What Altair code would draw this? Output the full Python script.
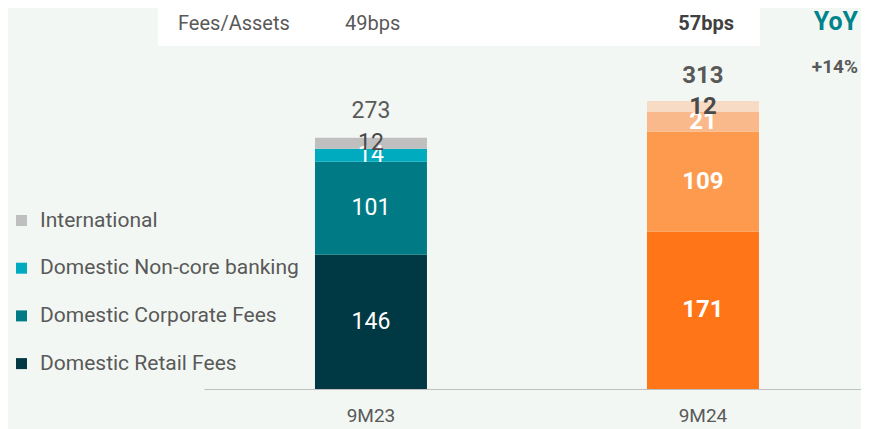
import altair as alt
import pandas as pd

# ---- data ----
periods = ["9M23", "9M24"]
segments = ["Domestic Retail Fees", "Domestic Corporate Fees",
            "Domestic Non-core banking", "International"]
values_9m23 = [146, 101, 14, 12]
values_9m24 = [171, 109, 21, 12]
totals = [273, 313]
fees_label = "Fees/Assets"
fees_assets = ["49bps", "57bps"]
yoy_title = "YoY"
yoy_value = "+14%"

legend_order = ["International", "Domestic Non-core banking",
                "Domestic Corporate Fees", "Domestic Retail Fees"]
teal_colors = ["#bfbfbf", "#00abc0", "#007b85", "#003843"]
orange_colors = ["#f8dbc5", "#f9b98a", "#fd9a4e", "#ff7518"]

rows = []
for p, vals in zip(periods, [values_9m23, values_9m24]):
    for i, (s, v) in enumerate(zip(segments, vals)):
        rows.append({"period": p, "segment": s, "value": v, "rank": i})
df = pd.DataFrame(rows)
tot_df = pd.DataFrame({"period": periods, "total": totals})

FONT = "Roboto"
GRAY = "#595959"
BG = "#f3f7f3"
W = 853

xscale = alt.Scale(domain=periods, range=[196, W],
                   paddingInner=0.6627, paddingOuter=0.3208, align=0.521)
xaxis = alt.Axis(title=None, domainColor="#bfbfbf", domainWidth=1, ticks=False,
                 labelFontSize=19, labelColor=GRAY, labelFont=FONT,
                 labelPadding=32, labelBaseline="alphabetic", labelAngle=0,
                 grid=False)
X = alt.X("period:N", scale=xscale, axis=xaxis, sort=periods)
yscale = alt.Scale(domain=[0, 414.1], nice=False, zero=True)

base = alt.Chart(df)

bars23 = base.transform_filter(alt.datum.period == "9M23").mark_bar().encode(
    x=X,
    y=alt.Y("value:Q", stack="zero", scale=yscale, axis=None),
    color=alt.Color("segment:N",
                    scale=alt.Scale(domain=legend_order, range=teal_colors),
                    legend=alt.Legend(title=None, orient="none", legendX=3, legendY=202,
                                      symbolType="square", symbolSize=121,
                                      symbolStrokeWidth=0, labelFontSize=21,
                                      labelFont=FONT, labelColor=GRAY, labelLimit=0,
                                      rowPadding=25.7, labelOffset=8, padding=0)),
    order=alt.Order("rank:Q"),
)
bars24 = base.transform_filter(alt.datum.period == "9M24").mark_bar().encode(
    x=X,
    y=alt.Y("value:Q", stack="zero", scale=yscale, axis=None),
    color=alt.Color("segment:N",
                    scale=alt.Scale(domain=legend_order, range=orange_colors),
                    legend=None),
    order=alt.Order("rank:Q"),
)

stacked = base.transform_stack(
    stack="value", groupby=["period"], sort=[alt.SortField("rank")], as_=["y0", "y1"]
).transform_calculate(mid="(datum.y0 + datum.y1) / 2")

lab_color = alt.condition(alt.datum.segment == "International",
                          alt.value("#4a4a4a"), alt.value("white"))

labels23 = stacked.transform_filter(alt.datum.period == "9M23").mark_text(
    font=FONT, fontSize=23, baseline="middle", align="center"
).encode(x=X, y=alt.Y("mid:Q", scale=yscale, axis=None), text="value:Q", color=lab_color)

labels24 = stacked.transform_filter(alt.datum.period == "9M24").mark_text(
    font=FONT, fontSize=24, fontWeight="bold", baseline="middle", align="center"
).encode(x=X, y=alt.Y("mid:Q", scale=yscale, axis=None), text="value:Q", color=lab_color)

tot_base = alt.Chart(tot_df)
tot23 = tot_base.transform_filter(alt.datum.period == "9M23").mark_text(
    font=FONT, fontSize=23, baseline="alphabetic", dy=-20, color=GRAY
).encode(x=X, y=alt.Y("total:Q", scale=yscale, axis=None), text="total:Q")
tot24 = tot_base.transform_filter(alt.datum.period == "9M24").mark_text(
    font=FONT, fontSize=24, fontWeight="bold", baseline="alphabetic", dy=-18, color=GRAY
).encode(x=X, y=alt.Y("total:Q", scale=yscale, axis=None), text="total:Q")

box = alt.Chart(pd.DataFrame({"a": [0]})).mark_rect(color="white").encode(
    x=alt.value(150), x2=alt.value(752), y=alt.value(0), y2=alt.value(38))

fees_t = alt.Chart(pd.DataFrame({"t": [fees_label]})).mark_text(
    font=FONT, fontSize=20, align="left", baseline="alphabetic", color=GRAY
).encode(x=alt.value(170), y=alt.value(22), text="t:N")
fees_a = alt.Chart(pd.DataFrame({"t": [fees_assets[0]]})).mark_text(
    font=FONT, fontSize=20, align="left", baseline="alphabetic", color=GRAY
).encode(x=alt.value(337), y=alt.value(22), text="t:N")
fees_b = alt.Chart(pd.DataFrame({"t": [fees_assets[1]]})).mark_text(
    font=FONT, fontSize=20, fontWeight="bold", align="right", baseline="alphabetic", color="#404040"
).encode(x=alt.value(726), y=alt.value(22), text="t:N")

yoy_t = alt.Chart(pd.DataFrame({"t": [yoy_title]})).mark_text(
    font=FONT, fontSize=25, fontWeight="bold", align="right", baseline="alphabetic", color="#00838a"
).encode(x=alt.value(W - 3), y=alt.value(22), text="t:N")
yoy_v = alt.Chart(pd.DataFrame({"t": [yoy_value]})).mark_text(
    font=FONT, fontSize=19, fontWeight="bold", align="right", baseline="alphabetic", color=GRAY
).encode(x=alt.value(W - 3), y=alt.value(65), text="t:N")

chart = alt.layer(
    box, fees_t, fees_a, fees_b, yoy_t, yoy_v,
    bars23, bars24, labels23, labels24, tot23, tot24
).resolve_scale(color="independent").properties(
    width=W, height=381,
    autosize=alt.AutoSizeParams(type="none"),
    padding={"left": 0, "top": 0, "right": 0, "bottom": 40},
    background=BG,
).configure_view(stroke=None)

chart.save("out.html", embed_options={"renderer": "svg", "actions": False})
